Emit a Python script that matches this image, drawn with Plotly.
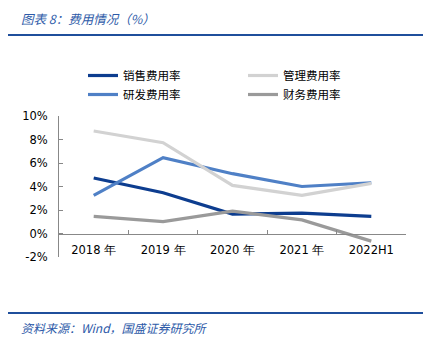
import plotly.graph_objects as go

categories = ["2018 年", "2019 年", "2020 年", "2021 年", "2022H1"]
sales = [4.72, 3.47, 1.65, 1.73, 1.45]
admin = [8.72, 7.73, 4.09, 3.24, 4.26]
rnd = [3.24, 6.45, 5.09, 4.00, 4.32]
finance = [1.45, 1.02, 1.90, 1.16, -0.65]
yticks = [-2, 0, 2, 4, 6, 8, 10]
ytick_text = [f"{v}%" for v in yticks]

series = [
    ("销售费用率", sales, "#0d3d8f", "legend"),
    ("研发费用率", rnd, "#4f80c6", "legend"),
    ("管理费用率", admin, "#d2d2d2", "legend2"),
    ("财务费用率", finance, "#9a9a9a", "legend2"),
]

fig = go.Figure()
for name, vals, color, lg in series:
    fig.add_trace(go.Scatter(x=categories, y=vals, name=name, mode="lines",
                             line=dict(color=color, width=3.2), legend=lg))

PW, PH, L, B = 347, 141, 59, 86
def px_x(x):
    return (x - L) / PW
def px_y(y):
    return (343 - B - y) / PH

legfont = dict(family="Noto Sans CJK SC", size=11.5, color="#000000")
tickfont = dict(family="DejaVu Sans", size=11.5, color="#000000")
fig.update_layout(
    width=438, height=343,
    margin=dict(l=L, r=32, t=116, b=B),
    paper_bgcolor="white", plot_bgcolor="white",
    showlegend=True,
    legend=dict(orientation="v", x=px_x(83), xanchor="left", y=px_y(61), yanchor="top",
                font=legfont, itemwidth=30, tracegroupgap=0, bgcolor="rgba(0,0,0,0)",
                traceorder="normal"),
    legend2=dict(orientation="v", x=px_x(243), xanchor="left", y=px_y(61), yanchor="top",
                 font=legfont, itemwidth=30, tracegroupgap=0, bgcolor="rgba(0,0,0,0)",
                 traceorder="normal"),
    xaxis=dict(type="category", range=[-0.5, 4.5], anchor="free", position=1/6,
               showline=True, linecolor="#888888", linewidth=1,
               ticks="inside", ticklen=4, tickcolor="#888888", tickson="boundaries",
               showgrid=False, zeroline=False, tickfont=tickfont, ticklabelstandoff=6),
    yaxis=dict(range=[-2, 10], tickvals=yticks, ticktext=ytick_text,
               showline=True, linecolor="#888888", linewidth=1,
               ticks="inside", ticklen=4, tickcolor="#888888",
               showgrid=False, zeroline=False, tickfont=tickfont,
               ticklabelstandoff=8),
)

# header and footer rules
for yy in (35, 313):
    fig.add_shape(type="line", xref="paper", yref="paper",
                  x0=px_x(8), x1=px_x(423), y0=px_y(yy), y1=px_y(yy),
                  line=dict(color="#1f4f9c", width=2.2))

fig.add_annotation(text="<i>图表 8：费用情况（%）</i>", xref="paper", yref="paper",
                   x=px_x(19), y=px_y(18), xanchor="left", yanchor="middle",
                   showarrow=False,
                   font=dict(family="Noto Sans CJK SC", size=12.5, color="#2d5aa8"))
fig.add_annotation(text="<i>资料来源：Wind，国盛证券研究所</i>", xref="paper", yref="paper",
                   x=px_x(19), y=px_y(327), xanchor="left", yanchor="middle",
                   showarrow=False,
                   font=dict(family="Noto Sans CJK SC", size=12, color="#2d5aa8"))

fig.write_html("out.html")
